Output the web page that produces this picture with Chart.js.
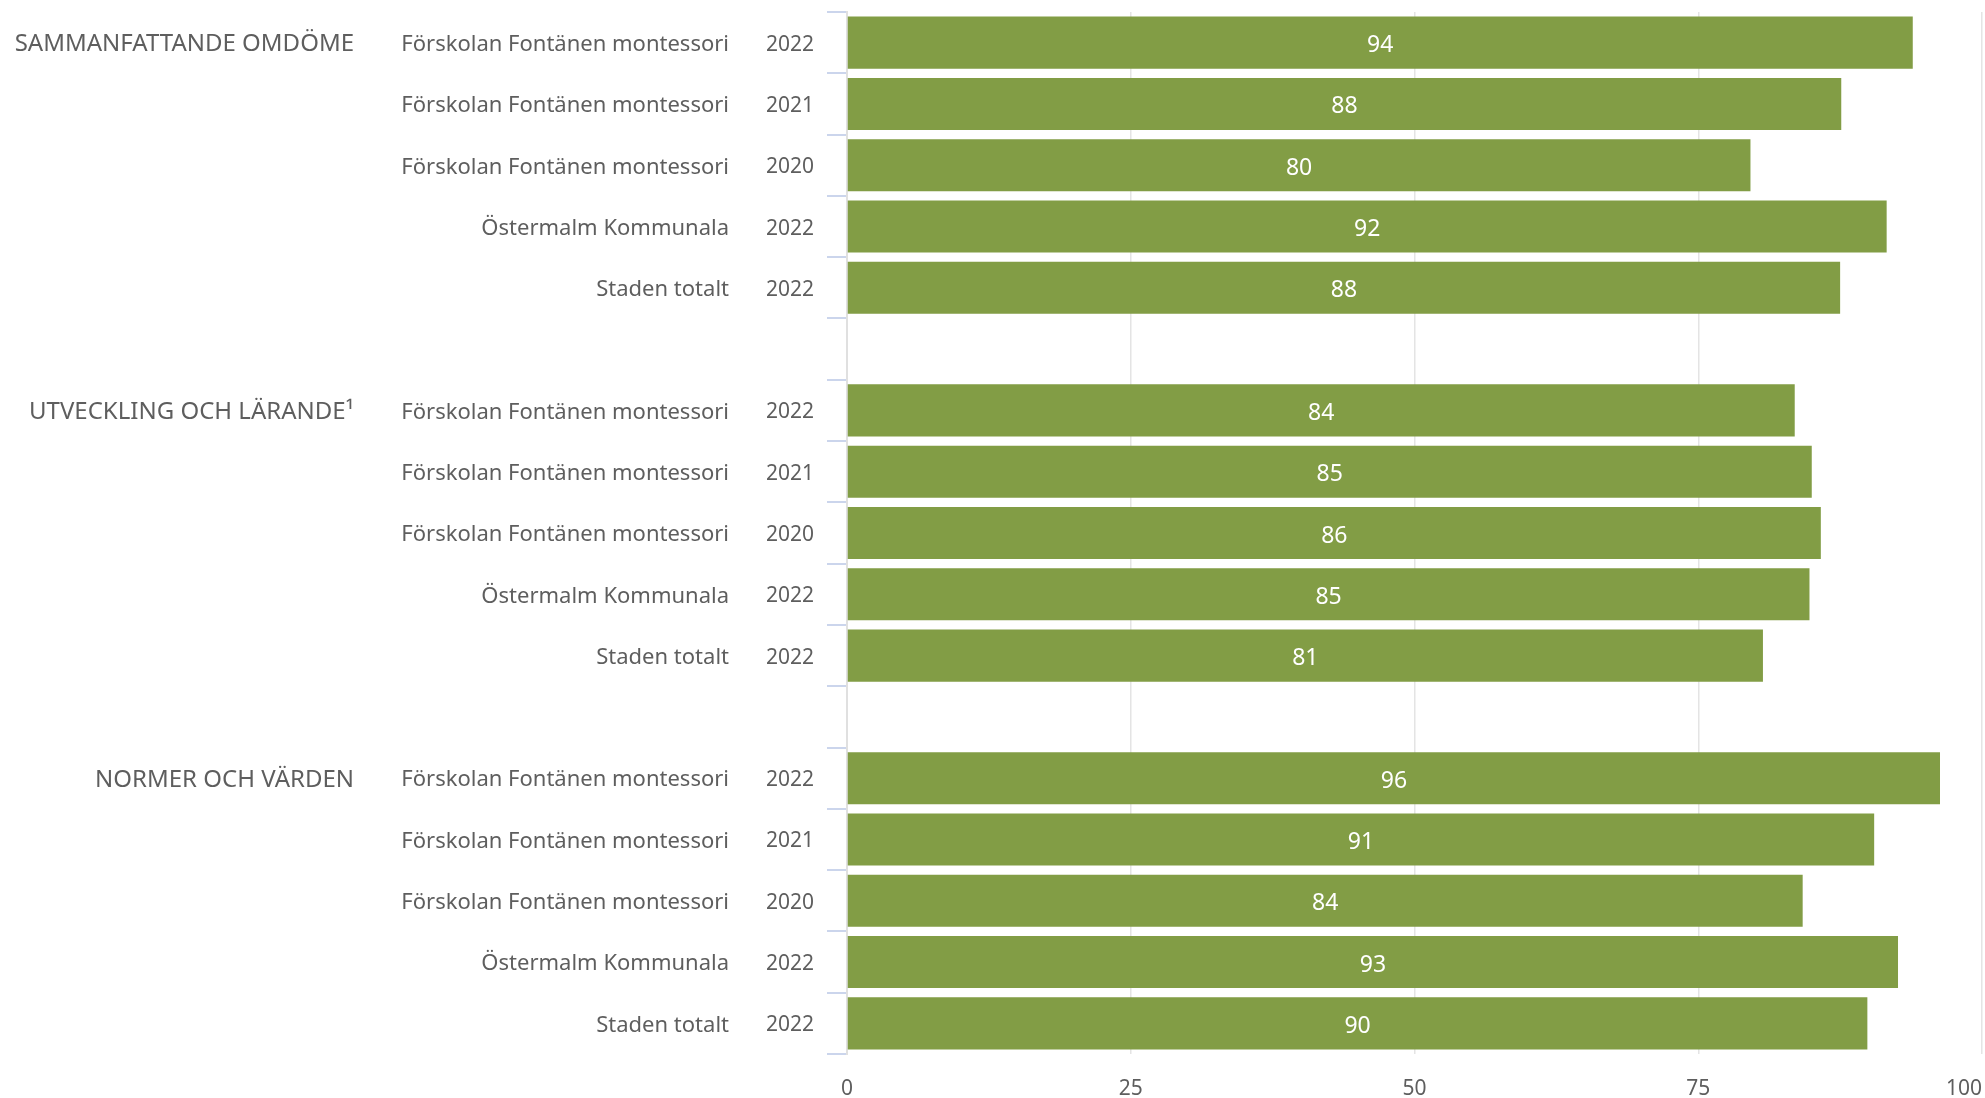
<!DOCTYPE html>
<html>
<head>
<meta charset="utf-8">
<script src="https://cdn.jsdelivr.net/npm/chart.js@4.4.1/dist/chart.umd.min.js"></script>
<style>
  html, body { margin: 0; padding: 0; background: #fff; overflow: hidden; }
  #wrap { width: 1985px; height: 1098px; }
</style>
</head>
<body>
<div id="wrap"><canvas id="chart"></canvas></div>
<script>
// data (bar lengths, printed rounded)
const groups = ['SAMMANFATTANDE OMDÖME', 'UTVECKLING OCH LÄRANDE¹', 'NORMER OCH VÄRDEN'];
const units = ['Förskolan Fontänen montessori', 'Förskolan Fontänen montessori', 'Förskolan Fontänen montessori', 'Östermalm Kommunala', 'Staden totalt'];
const years = ['2022', '2021', '2020', '2022', '2022'];
const sammanfattande = [93.9, 87.6, 79.6, 91.6, 87.5];
const utveckling = [83.5, 85.0, 85.8, 84.8, 80.7];
const normer = [96.3, 90.5, 84.2, 92.6, 89.9];
const xTicks = [0, 25, 50, 75, 100];

const textColor = '#5e5e5e';
const barColor = '#829d45';
const fontFamily = "'Noto Sans', sans-serif";

// one row per bar, an empty row between the groups
const groupCol = [], unitCol = [], yearCol = [], values = [];
[sammanfattande, utveckling, normer].forEach((serie, g) => {
  if (g > 0) {
    groupCol.push(''); unitCol.push(''); yearCol.push(''); values.push(null);
  }
  serie.forEach((v, i) => {
    groupCol.push(i === 0 ? groups[g] : '');
    unitCol.push(units[i]);
    yearCol.push(years[i]);
    values.push(v);
  });
});

// value inside each bar
const valueLabels = {
  id: 'valueLabels',
  afterDatasetsDraw(chart) {
    const ctx = chart.ctx;
    const meta = chart.getDatasetMeta(0);
    ctx.save();
    ctx.fillStyle = '#ffffff';
    ctx.font = '23px ' + fontFamily;
    ctx.textAlign = 'center';
    ctx.textBaseline = 'middle';
    meta.data.forEach((bar, i) => {
      const v = values[i];
      if (v == null) return;
      ctx.fillText(String(Math.round(v)), (bar.x + bar.base) / 2, bar.y + 3);
    });
    ctx.restore();
  }
};

// keep "0" centred, "100" stays right aligned at the edge
const firstTickCentre = {
  id: 'firstTickCentre',
  beforeDraw(chart) {
    const items = chart.scales.x.getLabelItems();
    if (items.length) items[0].options.textAlign = 'center';
  }
};

function fixWidth(w) {
  return scale => {
    scale.width = w;
    scale.paddingTop = 0;
    scale.paddingBottom = 0;
  };
}

new Chart(document.getElementById('chart'), {
  type: 'bar',
  data: {
    labels: yearCol,
    datasets: [{
      data: values,
      backgroundColor: barColor,
      borderWidth: 0,
      barPercentage: 0.85,
      categoryPercentage: 1
    }]
  },
  options: {
    indexAxis: 'y',
    responsive: true,
    maintainAspectRatio: false,
    animation: false,
    devicePixelRatio: 1,
    layout: { padding: { top: 12, right: 3, left: 0, bottom: 0 } },
    plugins: {
      legend: { display: false },
      tooltip: { enabled: false }
    },
    scales: {
      x: {
        type: 'linear',
        position: 'bottom',
        min: 0,
        max: 100,
        afterBuildTicks: scale => { scale.ticks = xTicks.map(v => ({ value: v })); },
        border: { display: false },
        grid: { color: '#e4e4e4', lineWidth: 1.5, drawTicks: false },
        ticks: { align: 'inner', padding: 22, color: textColor, font: { family: fontFamily, size: 21 } },
        afterFit: scale => {
          scale.height = 44;
          scale.paddingLeft = 0;
          scale.paddingRight = 0;
        }
      },
      y: {
        type: 'category',
        position: 'left',
        weight: 0,
        offset: true,
        grid: { offset: true, drawOnChartArea: false, drawTicks: true, tickLength: 20, color: '#cbd5ec', lineWidth: 2 },
        border: { color: '#e0e0e0', width: 2 },
        ticks: { autoSkip: false, padding: 13, labelOffset: 2, color: textColor, font: { family: fontFamily, size: 21 } },
        afterFit: fixWidth(87)
      },
      yUnit: {
        type: 'category',
        labels: unitCol,
        position: 'left',
        weight: 1,
        offset: true,
        grid: { display: false },
        border: { display: false },
        ticks: { autoSkip: false, padding: 23, labelOffset: 2, color: textColor, font: { family: fontFamily, size: 22 } },
        afterFit: fixWidth(380)
      },
      yGroup: {
        type: 'category',
        labels: groupCol,
        position: 'left',
        weight: 2,
        offset: true,
        grid: { display: false },
        border: { display: false },
        ticks: { autoSkip: false, padding: 18, labelOffset: 2, color: textColor, font: { family: fontFamily, size: 24 } },
        afterFit: fixWidth(380)
      }
    }
  },
  plugins: [valueLabels, firstTickCentre]
});
</script>
</body>
</html>
